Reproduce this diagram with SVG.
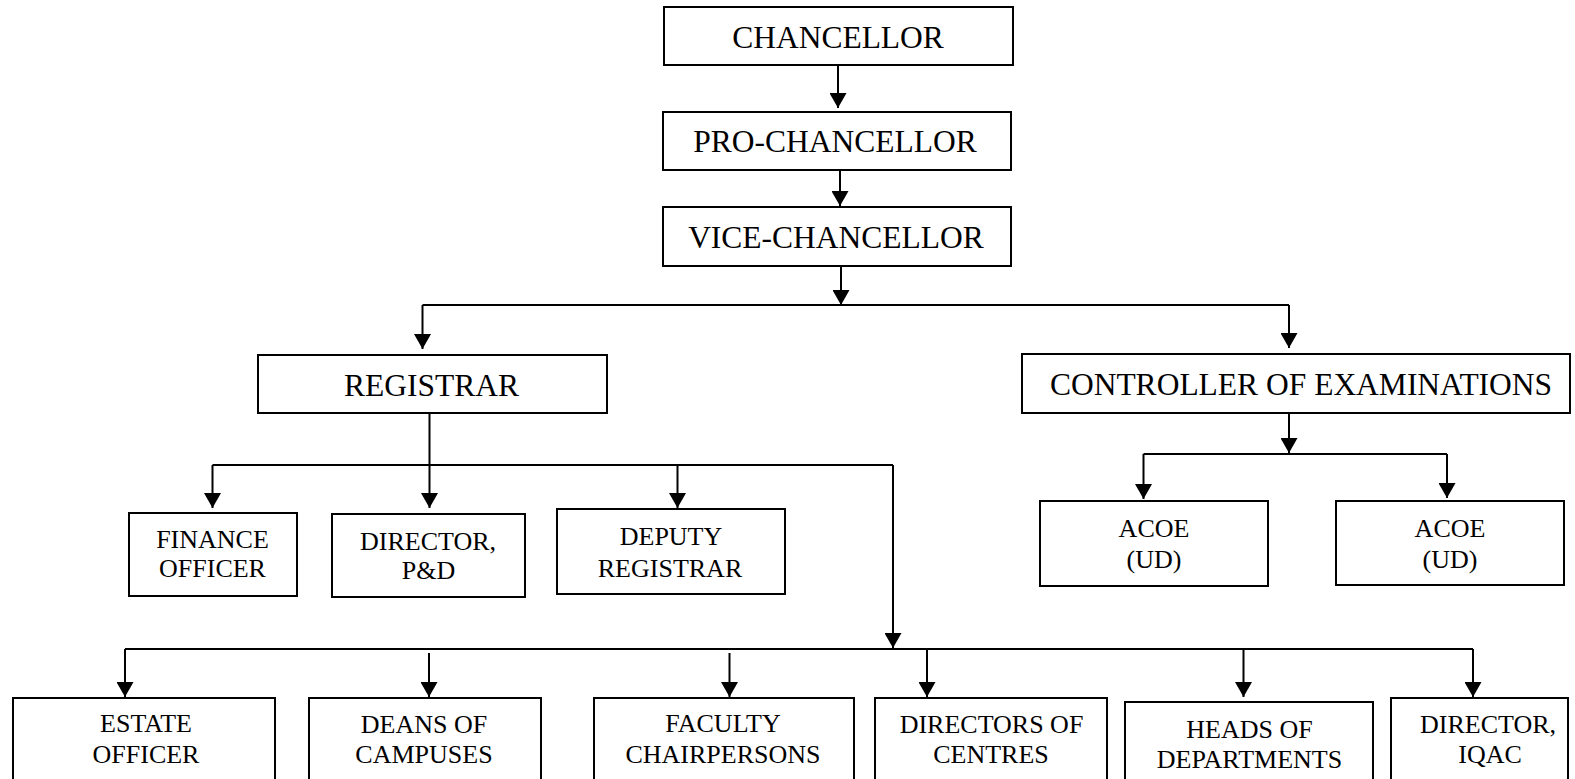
<svg xmlns="http://www.w3.org/2000/svg" width="1575" height="779" viewBox="0 0 1575 779">
<style>
.box{fill:#fff;stroke:#000;stroke-width:2}
.conn{stroke:#000;stroke-width:2;fill:none}
.t1{font-family:"Liberation Serif","Times New Roman",serif;font-size:31.5px;text-anchor:middle;fill:#000}
.t2{font-family:"Liberation Serif","Times New Roman",serif;font-size:26px;text-anchor:middle;fill:#000}
</style>
<defs>
<marker id="arr" markerUnits="userSpaceOnUse" markerWidth="15" markerHeight="17" refX="15" refY="8.5" orient="auto" viewBox="0 0 15 17">
<path d="M0,0 L15,8.5 L0,17 z" fill="#000"/>
</marker>
</defs>
<rect width="1575" height="779" fill="#fff"/>
<g id="connectors">
<path class="conn" d="M838,65 V108" marker-end="url(#arr)"/>
<path class="conn" d="M840,170 V206" marker-end="url(#arr)"/>
<path class="conn" d="M841,266 V305" marker-end="url(#arr)"/>
<path class="conn" d="M422.5,305 H1289"/>
<path class="conn" d="M422.5,305 V349" marker-end="url(#arr)"/>
<path class="conn" d="M1289,305 V348" marker-end="url(#arr)"/>
<path class="conn" d="M429.5,413 V508" marker-end="url(#arr)"/>
<path class="conn" d="M212.5,465 H893"/>
<path class="conn" d="M212.5,465 V508" marker-end="url(#arr)"/>
<path class="conn" d="M677.5,465 V508" marker-end="url(#arr)"/>
<path class="conn" d="M893,465 V648" marker-end="url(#arr)"/>
<path class="conn" d="M1289,413 V453" marker-end="url(#arr)"/>
<path class="conn" d="M1143.5,454 H1447"/>
<path class="conn" d="M1143.5,454 V499" marker-end="url(#arr)"/>
<path class="conn" d="M1447,454 V498" marker-end="url(#arr)"/>
<path class="conn" d="M125,649 H1473"/>
<path class="conn" d="M125,649 V697" marker-end="url(#arr)"/>
<path class="conn" d="M429,653 V697" marker-end="url(#arr)"/>
<path class="conn" d="M729.5,653 V697" marker-end="url(#arr)"/>
<path class="conn" d="M927,649 V697" marker-end="url(#arr)"/>
<path class="conn" d="M1243.5,649 V697" marker-end="url(#arr)"/>
<path class="conn" d="M1473,649 V697" marker-end="url(#arr)"/>
</g>
<g id="chancellor">
<rect class="box" x="664" y="7" width="349" height="58"/>
<text class="t1" x="838" y="48">CHANCELLOR</text>
</g>
<g id="pro-chancellor">
<rect class="box" x="663" y="112" width="348" height="58"/>
<text class="t1" x="835" y="152">PRO-CHANCELLOR</text>
</g>
<g id="vice-chancellor">
<rect class="box" x="663" y="207" width="348" height="59"/>
<text class="t1" x="836" y="248">VICE-CHANCELLOR</text>
</g>
<g id="registrar">
<rect class="box" x="258" y="355" width="349" height="58"/>
<text class="t1" x="431.5" y="396">REGISTRAR</text>
</g>
<g id="controller">
<rect class="box" x="1022" y="354" width="548" height="59"/>
<text class="t1" x="1301" y="395">CONTROLLER OF EXAMINATIONS</text>
</g>
<g id="finance-officer">
<rect class="box" x="129" y="513" width="168" height="83"/>
<text class="t2" x="212.5" y="548">FINANCE</text>
<text class="t2" x="212.5" y="577">OFFICER</text>
</g>
<g id="director-pd">
<rect class="box" x="332" y="514" width="193" height="83"/>
<text class="t2" x="428" y="550">DIRECTOR,</text>
<text class="t2" x="428.5" y="579">P&amp;D</text>
</g>
<g id="deputy-registrar">
<rect class="box" x="557" y="509" width="228" height="85"/>
<text class="t2" x="671" y="545">DEPUTY</text>
<text class="t2" x="670" y="577">REGISTRAR</text>
</g>
<g id="acoe-1">
<rect class="box" x="1040" y="501" width="228" height="85"/>
<text class="t2" x="1154" y="537">ACOE</text>
<text class="t2" x="1154" y="568">(UD)</text>
</g>
<g id="acoe-2">
<rect class="box" x="1336" y="501" width="228" height="84"/>
<text class="t2" x="1450" y="537">ACOE</text>
<text class="t2" x="1450" y="568">(UD)</text>
</g>
<g id="estate-officer">
<rect class="box" x="13" y="698" width="262" height="100"/>
<text class="t2" x="146" y="732">ESTATE</text>
<text class="t2" x="146" y="763">OFFICER</text>
</g>
<g id="deans-of-campuses">
<rect class="box" x="309" y="698" width="232" height="100"/>
<text class="t2" x="424" y="733">DEANS OF</text>
<text class="t2" x="424" y="763">CAMPUSES</text>
</g>
<g id="faculty-chairpersons">
<rect class="box" x="594" y="698" width="260" height="100"/>
<text class="t2" x="723" y="732">FACULTY</text>
<text class="t2" x="723" y="763">CHAIRPERSONS</text>
</g>
<g id="directors-of-centres">
<rect class="box" x="875" y="698" width="232" height="100"/>
<text class="t2" x="991.5" y="733">DIRECTORS OF</text>
<text class="t2" x="991" y="763">CENTRES</text>
</g>
<g id="heads-of-departments">
<rect class="box" x="1125" y="702" width="248" height="100"/>
<text class="t2" x="1249.5" y="738">HEADS OF</text>
<text class="t2" x="1249.5" y="768">DEPARTMENTS</text>
</g>
<g id="director-iqac">
<rect class="box" x="1391" y="698" width="177" height="100"/>
<text class="t2" x="1488" y="733">DIRECTOR,</text>
<text class="t2" x="1490" y="763">IQAC</text>
</g>
</svg>
